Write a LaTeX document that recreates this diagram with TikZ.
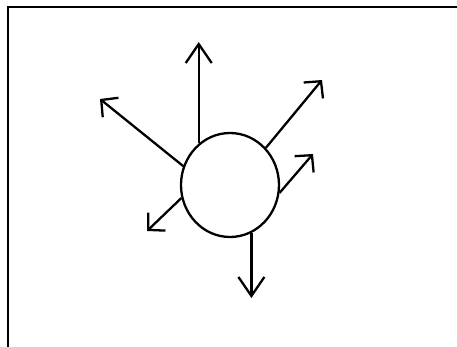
\documentclass[tikz,border=0pt]{standalone}
\usetikzlibrary{arrows.meta,shapes.geometric}
\begin{document}
\begin{tikzpicture}[x=1pt,y=-1pt,
  ln/.style={line width=2.3pt,black},
  vtip/.style={ln,-{Straight Barb[length=19pt,width=26pt,line width=2.3pt]}},
  dtip/.style={ln,-{Straight Barb[length=12pt,width=25pt,line width=2.3pt]}},
  body/.style={ellipse,draw,line width=2.3pt,minimum width=98pt,minimum height=104pt,inner sep=0pt}]
\useasboundingbox (0,0) rectangle (457,347);
\draw[line width=2pt] (8,350) -- (8,7.5) -- (460,7.5);
\node[body] (c) at (230,185) {};
\coordinate (tu) at (199,42);
\coordinate (tul) at (100,99);
\coordinate (tur) at (322,80);
\coordinate (tr) at (313,154);
\coordinate (tll) at (147,231);
\coordinate (td) at (251,298);
\draw[vtip] (c.127) -- (c.127 |- tu);
\draw[dtip] (c.158) -- (tul);
\draw[dtip] (c.46) -- (tur);
\draw[dtip] (c.-9) -- (tr);
\draw[dtip] (c.195) -- (tll);
\draw[vtip] (c.-66) -- (c.-66 |- td);
\end{tikzpicture}
\end{document}
